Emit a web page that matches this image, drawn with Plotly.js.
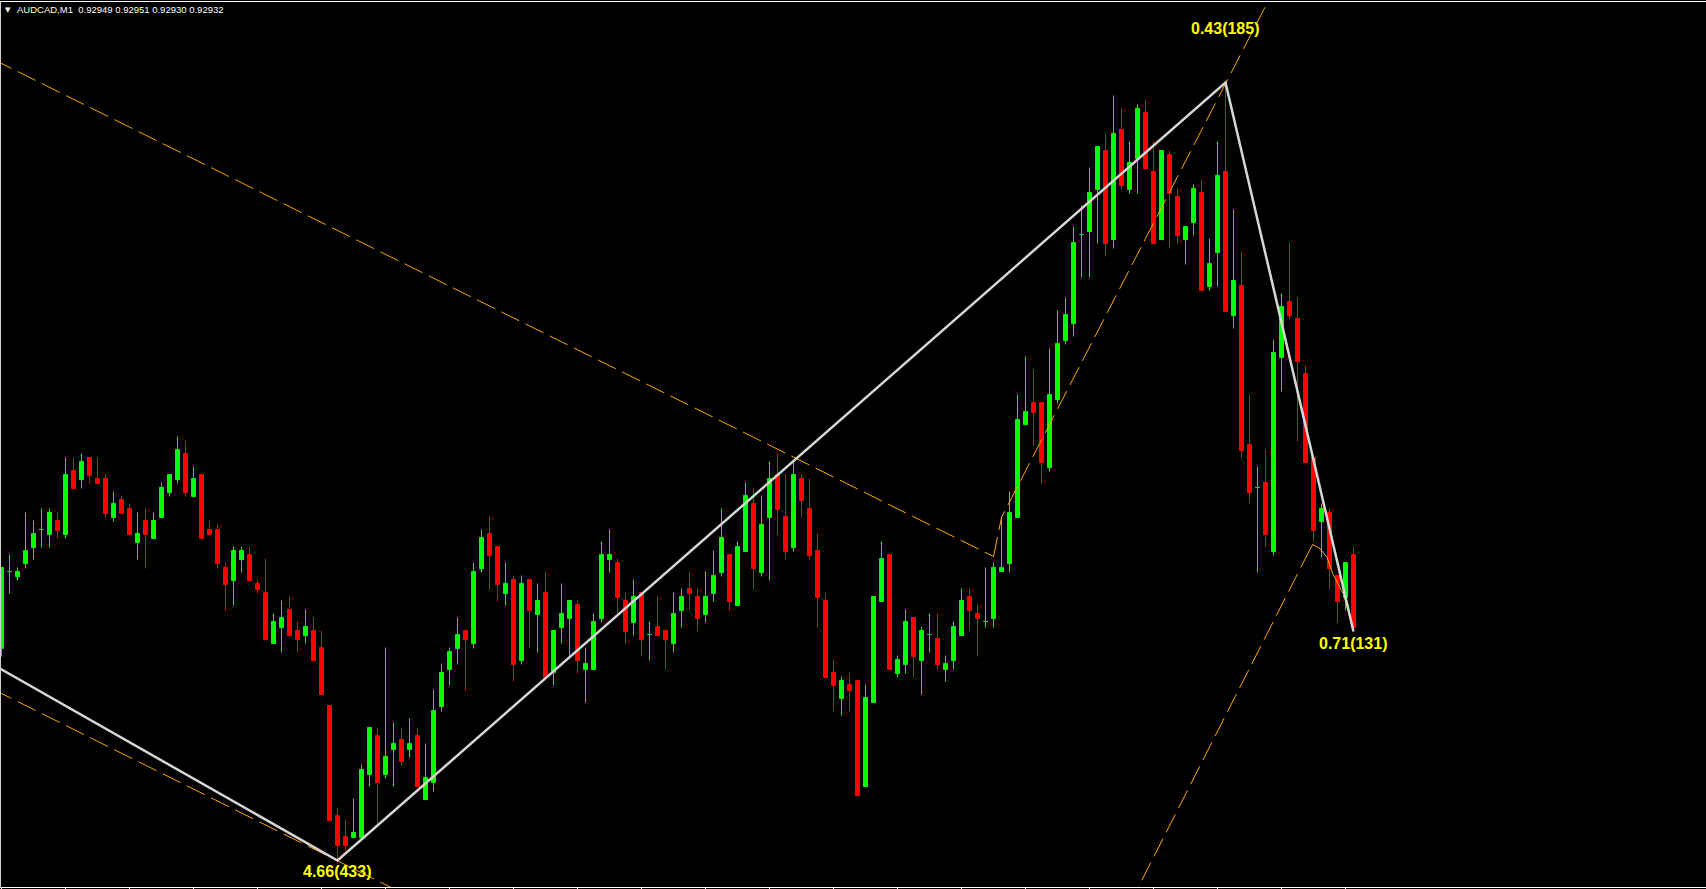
<!DOCTYPE html>
<html>
<head>
<meta charset="utf-8">
<script src="https://cdn.plot.ly/plotly-3.0.1.min.js"></script>
<style>
html,body{margin:0;padding:0;background:#000;overflow:hidden}
#chart{width:1706px;height:889px}
</style>
</head>
<body>
<div id="chart"></div>
<script>
// ---- data (AUDCAD, M1) ----
const symbol = 'AUDCAD,M1';
const lastQuote = ['0.92949', '0.92951', '0.92930', '0.92932'];
// prices are stored as half-point steps above BASE
const BASE = 0.927955;
const STEP = 0.000005;

const openV = [252,329,324,337,353,371,366,380,366,430,
421,443,422,422,383,401,392,358,380,362,
383,408,421,447,404,426,371,371,333,320,
341,346,317,308,257,273,291,270,265,270,
253,195,85,64,63,63,126,165,126,151,
161,151,165,101,118,194,231,252,270,257,
332,367,354,307,321,240,321,286,308,228,
273,282,296,231,231,282,341,338,300,278,
308,266,274,270,257,290,312,304,286,307,
328,346,295,349,397,328,383,426,384,353,
422,392,350,300,228,202,216,220,114,198,
299,346,227,236,283,240,266,262,231,240,
265,304,287,279,282,329,337,383,476,498,
498,433,501,560,577,666,669,711,750,661,
771,711,742,788,729,661,746,704,661,678,
708,614,648,729,585,615,456,413,418,349,
543,599,582,527,443,379,388,325,303,346];

const highV = [333,346,333,388,380,392,392,388,443,443,
447,443,443,426,409,405,397,388,392,388,
418,426,464,460,434,426,380,376,338,354,
354,354,321,342,287,300,304,279,291,283,
270,195,93,81,102,136,173,173,253,178,
173,182,173,157,211,237,253,283,270,338,
371,384,354,338,325,325,321,317,329,270,
317,300,300,253,287,359,371,342,308,321,
308,279,304,270,308,312,329,312,329,350,
392,346,359,418,413,405,439,447,426,438,
426,422,367,308,241,224,228,220,216,304,
359,346,245,291,283,274,287,287,245,279,
312,312,296,333,338,384,409,506,544,531,
498,552,590,603,674,695,733,754,767,805,
792,759,796,801,759,750,750,712,674,716,
721,662,759,818,691,649,506,434,451,561,
607,658,603,535,443,397,392,325,338,354];

const lowV = [244,307,320,332,341,353,353,362,362,412,
412,417,417,383,379,387,366,341,332,362,
383,404,417,404,404,362,366,332,290,295,
328,320,307,261,257,248,265,248,257,240,
206,80,40,50,63,63,114,76,122,114,
135,143,114,101,109,189,215,236,210,252,
328,311,299,295,219,236,252,248,223,215,
257,245,227,198,231,278,328,287,257,265,
244,240,265,231,248,273,290,269,278,299,
324,290,295,349,311,324,320,366,341,349,
383,341,273,223,189,185,189,105,114,198,
299,231,223,227,223,206,248,231,219,231,
265,269,244,273,273,329,328,383,476,455,
417,429,497,556,564,623,623,657,644,652,
711,707,707,732,657,661,652,657,636,665,
610,610,614,589,572,442,397,328,353,345,
509,581,459,438,359,343,311,278,290,269];

const closeV = [333,329,329,350,367,371,388,370,426,412,
439,425,417,387,397,387,366,367,366,380,
413,426,451,408,422,362,366,337,316,350,
350,320,311,261,279,283,265,261,274,240,
206,80,55,55,68,131,173,118,144,157,
139,157,114,123,190,228,249,266,261,329,
363,345,316,317,236,317,290,300,223,270,
287,300,240,237,279,346,346,303,269,304,
261,266,265,261,287,304,307,282,304,325,
363,299,354,405,332,376,422,391,349,426,
400,345,303,223,215,220,210,105,203,304,
342,231,241,279,244,270,266,236,237,274,
300,290,282,279,333,333,388,481,489,488,
438,506,557,586,658,666,708,754,657,767,
715,738,792,732,657,750,707,665,674,712,
610,637,725,589,620,450,408,413,366,548,
594,585,539,438,370,392,332,299,338,273];

// zigzag pivots (bar index, value) and their labels
const zzIdx = [-20, 42, 153, 169];
const zzVal = [322, 40, 818, 269];
const zzLabel = ['', '4.66(433)', '0.43(185)', '0.71(131)'];

// channel lines (bar index, value)
const chanAIdx = [-1, 124];          const chanAVal = [841, 344];
const chanBIdx = [124, 125, 158.5];  const chanBVal = [344, 383, 902];
const chanCIdx = [-1, 60];           const chanCVal = [211, -32];
const chanDIdx = [141, 163.3];       const chanDVal = [-4, 347];
const curveEIdx = [163.3, 163.9, 164.8, 165.7, 166.4, 167.7, 168.6, 169];
const curveEVal = [347, 356, 352, 343, 327, 307, 283, 271];

// time-axis tick bars (every 8 bars)
const tickBars = [0,8,16,24,32,40,48,56,64,72,80,88,96,104,112,120,128,136,144,152,160,168];

// ---- build ----
const P = v => BASE + v * STEP;
const toP = arr => arr.map(P);

const bull = {x: [], o: [], h: [], l: [], c: []};
const bear = {x: [], o: [], h: [], l: [], c: []};
for (let i = 0; i < openV.length; i++) {
  const t = closeV[i] >= openV[i] ? bull : bear;
  t.x.push(i); t.o.push(P(openV[i])); t.h.push(P(highV[i]));
  t.l.push(P(lowV[i])); t.c.push(P(closeV[i]));
}
function candle(s, col) {
  return {
    type: 'candlestick', x: s.x, open: s.o, high: s.h, low: s.l, close: s.c,
    increasing: {line: {color: col, width: 1}, fillcolor: col},
    decreasing: {line: {color: col, width: 1}, fillcolor: col},
    whiskerwidth: 0, hoverinfo: 'skip', showlegend: false
  };
}
const ORANGE = '#ffa500';
function dashed(xs, ys, dash) {
  return {type: 'scatter', mode: 'lines', x: xs, y: toP(ys),
    line: {color: ORANGE, width: 1, dash: dash || '20px,7px'},
    hoverinfo: 'skip', showlegend: false};
}

const traces = [
  candle(bull, '#00ff00'),
  candle(bear, '#ff0000'),
  dashed(chanAIdx, chanAVal),
  dashed(chanBIdx, chanBVal),
  dashed(chanCIdx, chanCVal),
  dashed(chanDIdx, chanDVal),
  dashed(curveEIdx, curveEVal, 'solid'),
  {type: 'scatter', mode: 'lines', x: zzIdx, y: toP(zzVal),
   line: {color: '#d6d6d6', width: 2.5}, hoverinfo: 'skip', showlegend: false}
];

const labelShift = [0, -11, 54, -12];
const annotations = [];
for (let k = 1; k < zzIdx.length; k++) {
  annotations.push({
    x: zzIdx[k], y: P(zzVal[k]), xref: 'x', yref: 'y',
    text: zzLabel[k], showarrow: false, xanchor: 'center', yanchor: 'middle',
    yshift: labelShift[k],
    font: {family: 'Liberation Sans, Arial, sans-serif', size: 16, color: '#ffff00', weight: 'bold'}
  });
}
annotations.push({
  xref: 'paper', yref: 'paper', x: 14 / 1705, y: (887 - 9.5) / 885,
  xanchor: 'left', yanchor: 'middle', showarrow: false,
  text: symbol + '&nbsp;&nbsp;' + lastQuote.join(' '),
  font: {family: 'Liberation Sans, Arial, sans-serif', size: 9.5, color: '#ffffff'}
});
annotations.push({
  xref: 'paper', yref: 'paper', x: 6.5 / 1705, y: (887 - 10) / 885,
  xanchor: 'center', yanchor: 'middle', showarrow: false,
  text: '▼', font: {family: 'DejaVu Sans', size: 7, color: '#ffffff'}
});

const layout = {
  width: 1706, height: 889,
  margin: {l: 1, r: 0, t: 2, b: 2, pad: 0},
  paper_bgcolor: '#000000', plot_bgcolor: '#000000',
  showlegend: false, hovermode: false,
  boxgap: 0.5, boxgroupgap: 0,
  xaxis: {
    range: [-0.0625, 213.0625], showgrid: false, zeroline: false,
    showline: true, mirror: true, linecolor: '#ffffff', linewidth: 1,
    ticks: 'outside', ticklen: 3, tickwidth: 1, tickcolor: '#ffffff',
    tickmode: 'array', tickvals: tickBars, showticklabels: false,
    rangeslider: {visible: false}, fixedrange: true
  },
  yaxis: {
    range: [P(13.5), P(898.5)], showgrid: false, zeroline: false,
    showline: true, mirror: false, linecolor: '#d0d0d0', linewidth: 1,
    ticks: '', showticklabels: false, fixedrange: true
  },
  annotations: annotations
};

Plotly.newPlot('chart', traces, layout, {staticPlot: true, displayModeBar: false});
</script>
</body>
</html>
